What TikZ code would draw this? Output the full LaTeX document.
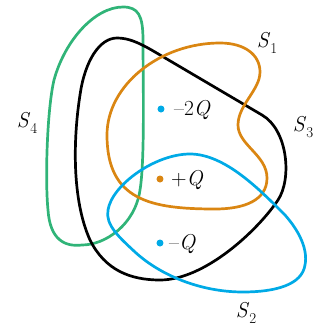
\documentclass[tikz,border=0pt]{standalone}
\usepackage{fontspec}
\definecolor{corange}{RGB}{218,134,18}
\definecolor{cblue}{RGB}{0,170,230}
\definecolor{cgreen}{RGB}{48,180,120}
\newcommand{\surfname}[1]{\textit{S}\raisebox{-0.25em}{\fontsize{15}{17}\selectfont #1}}
\tikzset{
  surf/.style={line width=2.7pt, line join=round},
  lbl/.style={inner sep=0pt, font=\fontsize{21.5}{25}\selectfont},
  charge/.style={circle, inner sep=0pt, minimum size=7pt},
}
\begin{document}
\begin{tikzpicture}[x=1pt,y=-1pt]
\useasboundingbox (0,0) rectangle (320,325);
% S4 green
\draw[surf, cgreen] (123,7) .. controls (95,7) and (65,40) .. (54,80)
 .. controls (47,110) and (45,180) .. (48,210)
 .. controls (50,240) and (65,247) .. (82,245)
 .. controls (105,245) and (135,225) .. (140,190)
 .. controls (145,160) and (143,80) .. (143,40)
 .. controls (143,15) and (138,7) .. (123,7) -- cycle;
% S3 black
\draw[surf, black] (117,38) .. controls (100,38) and (85,60) .. (80,95)
 .. controls (73,140) and (72,200) .. (90,240)
 .. controls (105,270) and (130,280) .. (160,280)
 .. controls (205,280) and (258,230) .. (278,200)
 .. controls (292,179) and (288,130) .. (262,115)
 -- (155,52)
 .. controls (138,42) and (128,38) .. (117,38) -- cycle;
% S1 orange
\draw[surf, corange] (220,43) .. controls (245,43) and (260,55) .. (260,72)
 .. controls (260,90) and (238,105) .. (238,125)
 .. controls (238,145) and (267,155) .. (267,178)
 .. controls (267,200) and (245,209) .. (215,209)
 .. controls (150,209) and (107,200) .. (107,135)
 .. controls (107,85) and (160,43) .. (220,43) -- cycle;
% S2 blue
\draw[surf, cblue] (190,154) .. controls (225,154) and (260,190) .. (285,215)
 .. controls (300,232) and (308,250) .. (305,265)
 .. controls (302,285) and (275,292) .. (243,292)
 .. controls (200,292) and (160,275) .. (135,252)
 .. controls (120,238) and (105,225) .. (108,210)
 .. controls (112,185) and (155,154) .. (190,154) -- cycle;
% charges
\node[charge, fill=cblue] (q1) at (161,109) {};
\node[lbl, anchor=west] (t1) at (174,110) {–2\textit{Q}};
\node[charge, fill=corange] (q2) at (160,179) {};
\node[lbl, anchor=west] (t2) at (171,180) {+\textit{Q}};
\node[charge, fill=cblue] (q3) at (160,243) {};
\node[lbl, anchor=west] (t3) at (169,244) {–\textit{Q}};
% labels
\node[lbl] (s1) at (267,43) {\surfname{1}};
\node[lbl] (s3) at (303,127) {\surfname{3}};
\node[lbl] (s4) at (27,123) {\surfname{4}};
\node[lbl] (s2) at (246,313) {\surfname{2}};
\end{tikzpicture}
\end{document}
